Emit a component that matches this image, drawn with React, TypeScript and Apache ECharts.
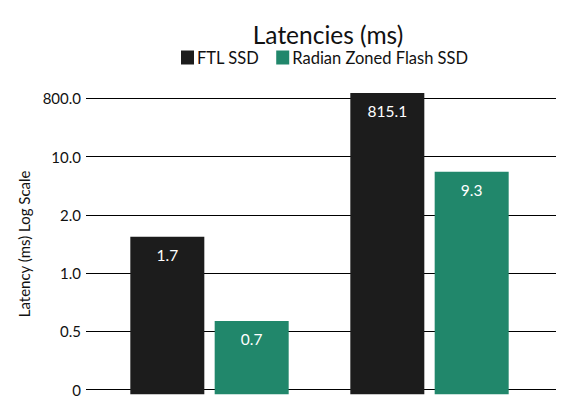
import React, { useEffect, useRef } from "react";
import * as echarts from "echarts";

const categories = ["Group A", "Group B"];
const tickLabels = ["0", "0.5", "1.0", "2.0", "10.0", "800.0"];
const seriesNames = ["FTL SSD", "Radian Zoned Flash SSD"];
// displayed latency values (ms)
const ftlValues = [1.7, 815.1];
const radianValues = [0.7, 9.3];
// bar heights, in axis tick units (0..5 = tick labels above)
const ftlHeights = [2.66, 5.09];
const radianHeights = [1.24, 3.76];

const FONT = "Lato";

export default function App() {
  const ref = useRef<HTMLDivElement>(null);
  useEffect(() => {
    if (!ref.current) return;
    const chart = echarts.init(ref.current, null, { renderer: "svg" });
    const mkData = (h: number[], v: number[]) => h.map((x, i) => ({ value: x, shown: v[i] }));
    const barLabel = {
      show: true,
      position: "insideTop",
      distance: 10,
      color: "#fff",
      fontFamily: FONT,
      fontSize: 15.5,
      formatter: (p: any) => String(p.data.shown),
    };
    chart.setOption({
      animation: false,
      textStyle: { fontFamily: FONT },
      title: {
        text: "Latencies (ms)",
        left: 323,
        textAlign: "center",
        top: 17,
        textStyle: { fontFamily: FONT, fontSize: 24.5, fontWeight: "normal", color: "#111" },
      },
      legend: {
        top: 44,
        left: 176,
        itemWidth: 13,
        itemHeight: 14,
        itemGap: 17,
        icon: "rect",
        textStyle: { fontFamily: FONT, fontSize: 16.5, color: "#111", padding: [0, 0, 0, -2] },
        data: seriesNames,
      },
      grid: [
        { left: 86, width: 470, top: 98.3, height: 296, containLabel: false },
        { left: 99.5, width: 440, top: 98.3, height: 296, containLabel: false },
      ],
      xAxis: [
        {
          type: "category",
          gridIndex: 0,
          data: categories,
          axisLine: { show: false },
          axisTick: { show: false },
          axisLabel: { show: false },
        },
        {
          type: "category",
          gridIndex: 1,
          data: categories,
          axisLine: { show: false },
          axisTick: { show: false },
          axisLabel: { show: false },
        },
      ],
      yAxis: [
        {
          type: "value",
          gridIndex: 0,
          min: 0,
          max: 5,
          interval: 1,
          name: "Latency (ms) Log Scale",
          nameLocation: "middle",
          nameGap: 53,
          nameTextStyle: { fontFamily: FONT, fontSize: 15, color: "#111" },
          axisLine: { show: false },
          axisTick: { show: false },
          axisLabel: {
            fontFamily: FONT,
            fontSize: 15,
            color: "#111",
            margin: 5,
            formatter: (v: number) => tickLabels[Math.round(v)] ?? "",
          },
          splitLine: { show: true, lineStyle: { color: "#000", width: 1 } },
        },
        {
          type: "value",
          gridIndex: 1,
          min: 0,
          max: 5,
          interval: 1,
          axisLine: { show: false },
          axisTick: { show: false },
          axisLabel: { show: false },
          splitLine: { show: false },
        },
      ],
      series: [
        {
          name: seriesNames[0],
          type: "bar",
          xAxisIndex: 1,
          yAxisIndex: 1,
          clip: false,
          barWidth: 74,
          barGap: "14%",
          itemStyle: { color: "#1c1c1c" },
          label: barLabel,
          data: mkData(ftlHeights, ftlValues),
        },
        {
          name: seriesNames[1],
          type: "bar",
          xAxisIndex: 1,
          yAxisIndex: 1,
          clip: false,
          barWidth: 74,
          barGap: "14%",
          itemStyle: { color: "#21876b" },
          label: barLabel,
          data: mkData(radianHeights, radianValues),
        },
      ],
    });
    return () => chart.dispose();
  }, []);
  return (
    <div
      ref={ref}
      style={{ position: "fixed", left: 0, top: 0, width: 584, height: 397, background: "#fff" }}
    />
  );
}
